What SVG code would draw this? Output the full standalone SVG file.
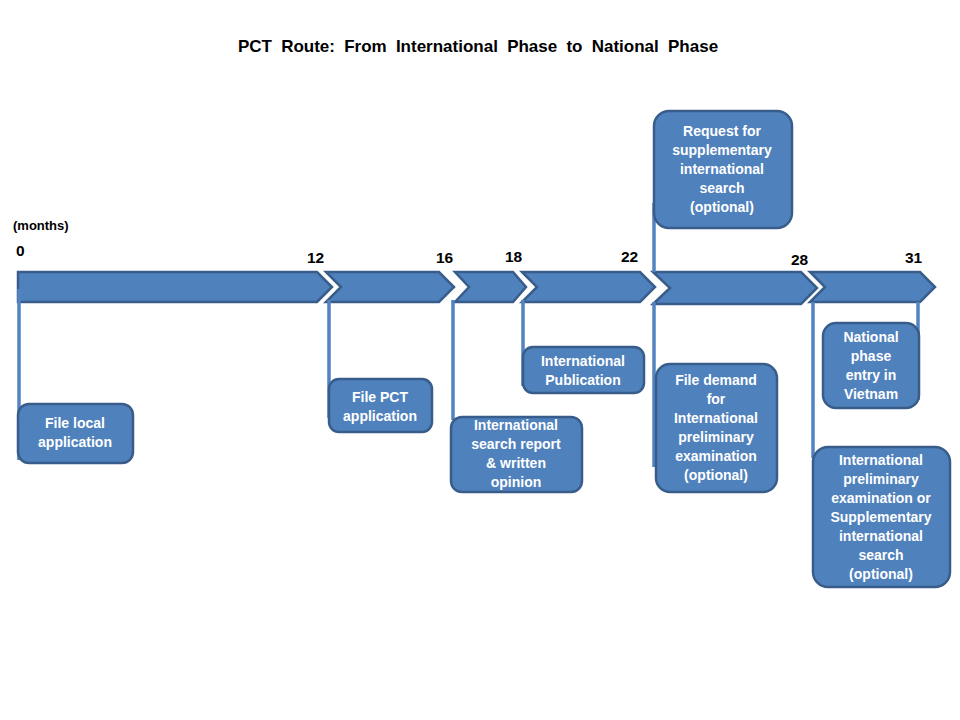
<svg xmlns="http://www.w3.org/2000/svg" width="960" height="720" viewBox="0 0 960 720">
<style>
.chev{fill:#4f81bd;stroke:#385d8a;stroke-width:2.5;stroke-linejoin:miter}
.box{fill:#4f81bd;stroke:#385d8a;stroke-width:2.5}
.conn{stroke:#5383c0;stroke-width:3.5;fill:none}
.bt{font-family:"Liberation Sans",Arial,sans-serif;font-weight:bold;font-size:14px;fill:#ffffff;text-anchor:middle}
.num{font-family:"Liberation Sans",Arial,sans-serif;font-weight:bold;font-size:15.5px;fill:#000000}
.title{font-family:"Liberation Sans",Arial,sans-serif;font-weight:bold;font-size:17px;fill:#000000;text-anchor:middle;word-spacing:4.5px}
</style>
<rect width="960" height="720" fill="#ffffff"/>
<text class="title" x="478" y="52">PCT Route: From International Phase to National Phase</text>
<text class="num" x="13" y="230" style="font-size:13px">(months)</text>
<text class="num" x="16" y="256">0</text>
<text class="num" x="307" y="263">12</text>
<text class="num" x="436" y="263">16</text>
<text class="num" x="505" y="262">18</text>
<text class="num" x="621" y="262">22</text>
<text class="num" x="791" y="265">28</text>
<text class="num" x="905" y="263">31</text>
<g id="timeline">
<polygon class="chev" points="18,272 317,272 332,287 317,302 18,302"/>
<polygon class="chev" points="326,272 439,272 454,287 439,302 326,302 341,287"/>
<polygon class="chev" points="455,272 513,272 526,287 513,302 455,302 469,287"/>
<polygon class="chev" points="522,272 640,272 655,287 640,302 522,302 537,287"/>
<polygon class="chev" points="653,272 801,272 817,288 801,304 653,304 670,288"/>
<polygon class="chev" points="810,272 920,272 935,287 920,302 810,302 825,287"/>
</g>
<g id="connectors">
<line class="conn" x1="19" y1="289" x2="19" y2="460"/>
<line class="conn" x1="329" y1="300" x2="329" y2="418"/>
<line class="conn" x1="453" y1="300" x2="453" y2="420"/>
<line class="conn" x1="523" y1="300" x2="523" y2="386"/>
<line class="conn" x1="654" y1="302" x2="654" y2="467"/>
<line class="conn" x1="654" y1="203" x2="654" y2="272"/>
<line class="conn" x1="813" y1="302" x2="813" y2="458"/>
<line class="conn" x1="918" y1="302" x2="918" y2="400"/>
</g>
<g id="n-file-local">
<rect class="box" x="18" y="404" width="115" height="59" rx="11"/>
<text class="bt" x="75" y="428">File local</text>
<text class="bt" x="75" y="447">application</text>
</g>
<g id="n-file-pct">
<rect class="box" x="329" y="379" width="103" height="53" rx="10"/>
<text class="bt" x="380" y="402">File PCT</text>
<text class="bt" x="380" y="421">application</text>
</g>
<g id="n-isr">
<rect class="box" x="451" y="417" width="131" height="75" rx="11"/>
<text class="bt" x="516" y="430">International</text>
<text class="bt" x="516" y="449">search report</text>
<text class="bt" x="516" y="468">&amp; written</text>
<text class="bt" x="516" y="487">opinion</text>
</g>
<g id="n-publication">
<rect class="box" x="523" y="347" width="121" height="46" rx="10"/>
<text class="bt" x="583" y="366">International</text>
<text class="bt" x="583" y="385">Publication</text>
</g>
<g id="n-demand">
<rect class="box" x="656" y="364" width="121" height="128" rx="14"/>
<text class="bt" x="716" y="385">File demand</text>
<text class="bt" x="716" y="404">for</text>
<text class="bt" x="716" y="423">International</text>
<text class="bt" x="716" y="442">preliminary</text>
<text class="bt" x="716" y="461">examination</text>
<text class="bt" x="716" y="480">(optional)</text>
</g>
<g id="n-supplementary">
<rect class="box" x="654" y="111" width="138" height="117" rx="15"/>
<text class="bt" x="722" y="136">Request for</text>
<text class="bt" x="722" y="155">supplementary</text>
<text class="bt" x="722" y="174">international</text>
<text class="bt" x="722" y="193">search</text>
<text class="bt" x="722" y="212">(optional)</text>
</g>
<g id="n-national">
<rect class="box" x="823" y="323" width="96" height="85" rx="13"/>
<text class="bt" x="871" y="342">National</text>
<text class="bt" x="871" y="361">phase</text>
<text class="bt" x="871" y="380">entry in</text>
<text class="bt" x="871" y="399">Vietnam</text>
</g>
<g id="n-ipe">
<rect class="box" x="813" y="447" width="137" height="140" rx="15"/>
<text class="bt" x="881" y="465">International</text>
<text class="bt" x="881" y="484">preliminary</text>
<text class="bt" x="881" y="503">examination or</text>
<text class="bt" x="881" y="522">Supplementary</text>
<text class="bt" x="881" y="541">international</text>
<text class="bt" x="881" y="560">search</text>
<text class="bt" x="881" y="579">(optional)</text>
</g>
</svg>
